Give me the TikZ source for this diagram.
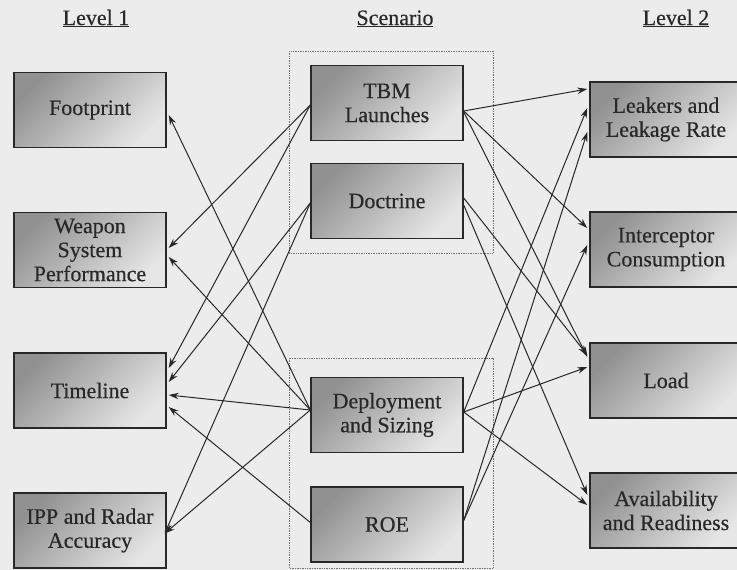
\documentclass[tikz,border=0pt]{standalone}
\usepackage{fontspec}
\setmainfont{Liberation Serif}[FakeBold=0.35]
\usetikzlibrary{arrows.meta,calc}

\definecolor{pagebg}{RGB}{236,236,236}
\definecolor{ink}{RGB}{40,40,40}
\definecolor{boxdark}{RGB}{145,145,145}
\definecolor{boxlight}{RGB}{230,230,230}
\definecolor{groupline}{RGB}{115,115,115}

\tikzset{
  block/.style={draw=ink, line width=1.4pt, top color=boxdark, bottom color=boxlight,
    shading angle=45, minimum width=152pt, minimum height=75pt, inner sep=0pt,
    align=center, text=ink, font=\fontsize{22}{24}\selectfont},
  heading/.style={anchor=base, text=ink, font=\fontsize{22}{24}\selectfont},
  group/.style={draw=groupline, densely dotted, line width=0.7pt},
  link/.style={draw=ink, line width=1pt, -{Stealth[length=10pt,width=6.5pt]}}
}

\begin{document}
\begin{tikzpicture}[x=1pt, y=-1pt]
  % page
  \fill[pagebg] (0,0) rectangle (737,570);
  \useasboundingbox (0,0) rectangle (737,570);

  % column headings
  \node[heading] (h1) at (96,25) {\underline{Level 1}};
  \node[heading] (h2) at (395,25) {\underline{Scenario}};
  \node[heading] (h3) at (676,25) {\underline{Level 2}};

  % scenario groups
  \draw[group] (289,51) rectangle (493,253);
  \draw[group] (289,358) rectangle (493,568);

  % level 1
  \node[block] (fp)   at (90,110) {Footprint};
  \node[block] (wsp)  at (90,250) {Weapon\\System\\Performance};
  \node[block] (tl)   at (90,390.5) {Timeline};
  \node[block] (ipp)  at (90,530.5) {IPP and Radar\\Accuracy};

  % scenario
  \node[block] (tbm)  at (387,103) {TBM\\Launches};
  \node[block] (doc)  at (387,201) {Doctrine};
  \node[block] (dep)  at (387,415) {Deployment\\and Sizing};
  \node[block] (roe)  at (387,524.5) {ROE};

  % level 2
  \node[block] (leak)  at (666,119.5) {Leakers and\\Leakage Rate};
  \node[block] (intc)  at (666,249.5) {Interceptor\\Consumption};
  \node[block] (load)  at (666,380.5) {Load};
  \node[block] (avail) at (666,510.5) {Availability\\and Readiness};

  % scenario -> level 1
  \draw[link] ($(tbm.west)+(0,2)$) -- ($(wsp.east)+(2,-2)$);
  \draw[link] ($(tbm.west)+(0,2)$) -- ($(tl.east)+(2,-22.5)$);
  \draw[link] ($(doc.west)+(0,2)$) -- ($(tl.east)+(2,-8.5)$);
  \draw[link] ($(doc.west)+(0,2)$) -- ($(ipp.east)+(-2,3)$);
  \draw[link] ($(dep.west)+(0,-5)$) -- ($(fp.east)+(2,5)$);
  \draw[link] ($(dep.west)+(0,-5)$) -- ($(wsp.east)+(2,7)$);
  \draw[link] ($(dep.west)+(0,-5)$) -- ($(tl.east)+(2,4.5)$);
  \draw[link] ($(dep.west)+(0,-5)$) -- ($(ipp.east)+(-2,3)$);
  \draw[link] ($(roe.west)+(0,-2)$) -- ($(tl.east)+(2,16.5)$);

  % scenario -> level 2
  \draw[link] ($(tbm.east)+(0,8)$) -- ($(leak.west)+(-2,-30.5)$);
  \draw[link] ($(tbm.east)+(0,8)$) -- ($(intc.west)+(-2,-21.5)$);
  \draw[link] ($(tbm.east)+(0,9)$) -- ($(load.west)+(-2,-23.5)$);
  \draw[link] ($(doc.east)+(0,-3)$) -- ($(load.west)+(-2,-25.5)$);
  \draw[link] ($(doc.east)+(0,4)$) -- ($(avail.west)+(-2,-15.5)$);
  \draw[link] ($(dep.east)+(0,-3)$) -- ($(leak.west)+(-2,-11.5)$);
  \draw[link] ($(dep.east)+(0,-3)$) -- ($(load.west)+(-2,-13.5)$);
  \draw[link] ($(dep.east)+(0,-3)$) -- ($(avail.west)+(-2,-5.5)$);
  \draw[link] ($(roe.east)+(0,-4)$) -- ($(leak.west)+(-2,12.5)$);
  \draw[link] ($(roe.east)+(0,-4)$) -- ($(intc.west)+(-2,-4.5)$);
\end{tikzpicture}
\end{document}
